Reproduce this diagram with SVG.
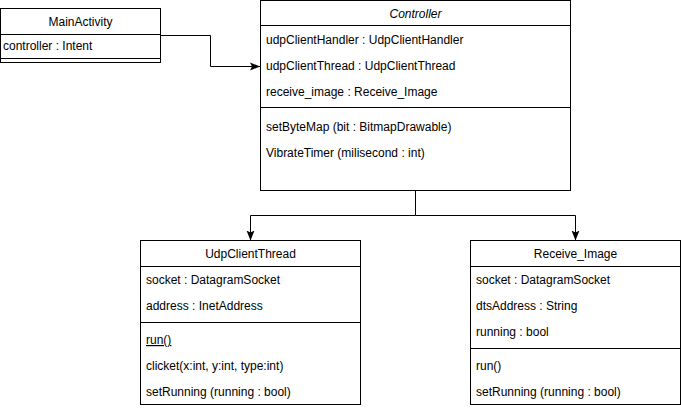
<svg xmlns="http://www.w3.org/2000/svg" width="681" height="408" viewBox="0 0 681 408">
<style>
.box{fill:#fff;stroke:#000;stroke-width:1}
.ln{stroke:#000;stroke-width:1;fill:none}
text{font-family:"Liberation Sans",Arial,Helvetica,sans-serif;font-size:12px;fill:#000}
.c{text-anchor:middle}
.conn{stroke:#000;stroke-width:1;fill:none;marker-end:url(#arr)}
</style>
<defs>
<marker id="arr" viewBox="0 0 10 10" refX="10" refY="5" markerWidth="10" markerHeight="10" markerUnits="userSpaceOnUse" orient="auto">
<path d="M0,1 L10,5 L0,9 L2,5 Z" fill="#000"/>
</marker>
</defs>
<rect width="681" height="408" fill="#fff"/>
<g id="connectors">
<path class="conn" d="M160.5,35.5 H210.5 V66.5 H260"/>
<path class="ln" d="M415.5,190.5 V215.5 H250.5 M415.5,215.5 H575.5"/>
<path class="conn" d="M250.5,215.5 V240.5"/>
<path class="conn" d="M575.5,215.5 V240.5"/>
</g>
<g id="MainActivity">
<rect class="box" x="0.5" y="8.5" width="160" height="54"/>
<line class="ln" x1="0.5" y1="34.5" x2="160.5" y2="34.5"/>
<line class="ln" x1="0.5" y1="58.5" x2="160.5" y2="58.5"/>
<text class="c" x="80.5" y="26">MainActivity</text>
<text x="3" y="50">controller : Intent</text>
</g>
<g id="Controller">
<rect class="box" x="260.5" y="0.5" width="310" height="190"/>
<line class="ln" x1="260.5" y1="25.5" x2="570.5" y2="25.5"/>
<line class="ln" x1="260.5" y1="107.5" x2="570.5" y2="107.5"/>
<text class="c" x="415.5" y="17.5" font-style="italic">Controller</text>
<text x="266" y="43.5">udpClientHandler : UdpClientHandler</text>
<text x="266" y="69.5">udpClientThread : UdpClientThread</text>
<text x="266" y="95.5">receive_image : Receive_Image</text>
<text x="266" y="130.5">setByteMap (bit : BitmapDrawable)</text>
<text x="266" y="156.5">VibrateTimer (milisecond : int)</text>
</g>
<g id="UdpClientThread">
<rect class="box" x="140.5" y="240.5" width="220" height="164"/>
<line class="ln" x1="140.5" y1="266.5" x2="360.5" y2="266.5"/>
<line class="ln" x1="140.5" y1="322.5" x2="360.5" y2="322.5"/>
<text class="c" x="250.5" y="257.5">UdpClientThread</text>
<text x="146" y="284">socket : DatagramSocket</text>
<text x="146" y="310">address : InetAddress</text>
<text x="146" y="344" text-decoration="underline">run()</text>
<text x="146" y="370">clicket(x:int, y:int, type:int)</text>
<text x="146" y="396">setRunning (running : bool)</text>
</g>
<g id="Receive_Image">
<rect class="box" x="470.5" y="240.5" width="210" height="164"/>
<line class="ln" x1="470.5" y1="266.5" x2="680.5" y2="266.5"/>
<line class="ln" x1="470.5" y1="348.5" x2="680.5" y2="348.5"/>
<text class="c" x="575.5" y="257.5">Receive_Image</text>
<text x="476" y="284">socket : DatagramSocket</text>
<text x="476" y="310">dtsAddress : String</text>
<text x="476" y="336">running : bool</text>
<text x="476" y="370">run()</text>
<text x="476" y="396">setRunning (running : bool)</text>
</g>
</svg>
